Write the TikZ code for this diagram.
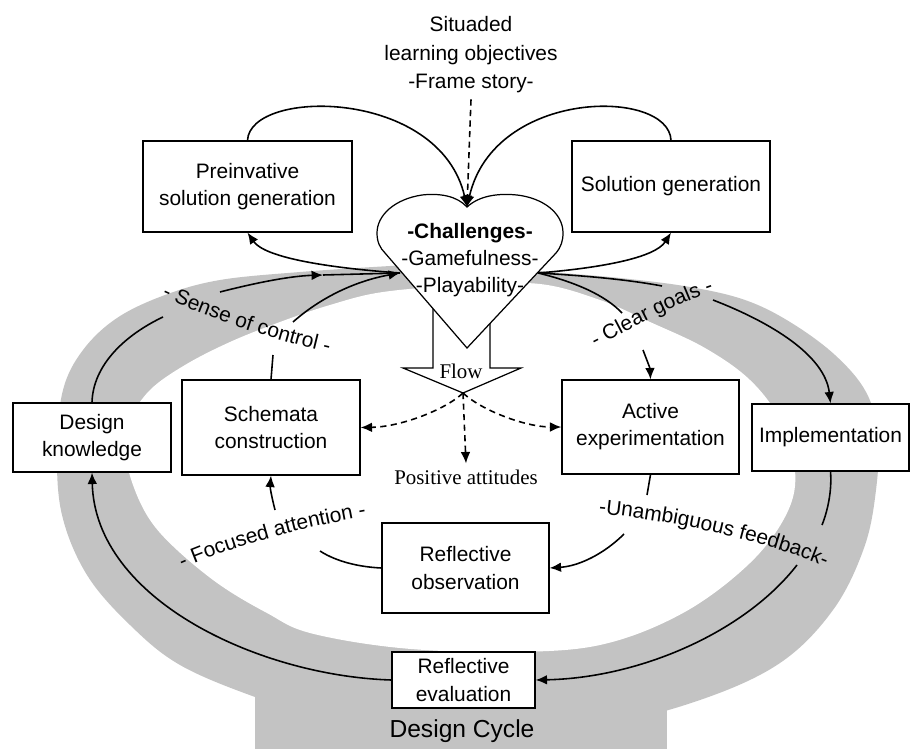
\documentclass[tikz,border=0pt]{standalone}
\usepackage{fontspec}
\setmainfont{Liberation Sans}
\newfontfamily\serifface{Liberation Serif}
\usetikzlibrary{arrows.meta,decorations.text}
\newlength\pxl
\setlength\pxl{0.02cm}
\newcommand\boxfont{\fontsize{11.9}{15.4}\selectfont}
\definecolor{ringgrey}{RGB}{195,195,195}

\begin{document}
\begin{tikzpicture}[x=0.02cm,y=-0.02cm,
  box/.style={draw, fill=white, line width=0.7pt, align=center, inner sep=0pt, font=\boxfont},
  plain/.style={line width=0.9pt},
  link/.style={line width=0.9pt, -{Latex[length=6.5pt,width=5.5pt]}},
  dlink/.style={line width=0.9pt, dash pattern=on 3.5pt off 2.5pt, -{Latex[length=6.5pt,width=5.5pt]}},
  arclabel/.style={decorate, decoration={text along path, text align=center, text={|\boxfont|#1}}}
]
\useasboundingbox (0,0) rectangle (911,749);

% grey design-cycle ring with its stem
\fill[ringgrey] plot[smooth cycle, tension=0.6] coordinates {
  (467,262) (540,271) (620,278) (690,287) (745,300) (790,322) (835,355)
  (866,392) (878,435) (876,490) (864,548) (833,610) (780,663) (700,700)
  (600,725) (467,735) (330,720) (255,697) (180,665) (130,625) (87,575)
  (62,515) (57,450) (63,390) (83,350) (117,318) (165,295) (220,280)
  (300,272) (390,266)};
\fill[ringgrey] (255,680) rectangle (667,749);
\fill[white] plot[smooth cycle, tension=0.6] coordinates {
  (467,285) (540,284) (600,300) (650,322) (705,348) (750,380) (780,420)
  (795,470) (787,513) (750,563) (683,613) (600,645) (505,652) (400,648)
  (310,633) (267,613) (220,585) (177,550) (150,520) (133,485) (125,450)
  (130,420) (150,390) (185,365) (230,342) (280,322) (330,305) (383,292)};

% boxes
\node[box, minimum width=209\pxl, minimum height=91\pxl] (pre) at (247.5,186.5) {Preinvative\\solution generation};
\node[box, minimum width=198\pxl, minimum height=91\pxl] (sol) at (671,186.5) {Solution generation};
\node[box, minimum width=158\pxl, minimum height=69\pxl] (dk) at (92,437.5) {Design\\knowledge};
\node[box, minimum width=178\pxl, minimum height=95\pxl] (sch) at (271,427.5) {Schemata\\construction};
\node[box, minimum width=177\pxl, minimum height=94\pxl] (act) at (650.5,427) {Active\\experimentation};
\node[box, minimum width=157\pxl, minimum height=67\pxl] (imp) at (830.5,437.5) {Implementation};
\node[box, minimum width=167\pxl, minimum height=90\pxl] (robs) at (465.5,568) {Reflective\\observation};
\node[box, minimum width=143\pxl, minimum height=56\pxl] (reval) at (463.5,680) {Reflective\\evaluation};
\node[font=\fontsize{14}{16}\selectfont] (cyc) at (462,731) {Design Cycle};

% situated objectives above the heart
\node[align=center, font=\fontsize{11.9}{16.2}\selectfont] (obj) at (471,55) {Situaded\\learning objectives\\-Frame story-};

% flow block arrow
\draw[fill=white, line width=0.7pt] (433,300) -- (433,368) -- (403,368) -- (463,393) -- (521,368) -- (490,368) -- (490,300);
\coordinate (ftip) at (463,393);
\node[font=\serifface\fontsize{11.9}{14}\selectfont] (flow) at (461,371) {Flow};

% heart with the challenges
\draw[fill=white, line width=0.7pt] (467,207) .. controls (457,196) and (440,193) .. (422,195)
  .. controls (395,199) and (377,215) .. (377,233) .. controls (377,242) and (380,248) .. (385,253)
  -- (467,348) -- (556,253) .. controls (561,247) and (563,241) .. (563,233)
  .. controls (563,213) and (543,198) .. (517,195) .. controls (497,193) and (479,196) .. (467,207) -- cycle;
\coordinate (notch) at (467,207);
\coordinate (hl) at (400,273);
\coordinate (hr) at (538,273);
\node[align=center, font=\boxfont] (chal) at (470,260) {\textbf{-Challenges-}\\-Gamefulness-\\-Playability-};

\node[font=\serifface\fontsize{11.9}{14}\selectfont] (pos) at (466,477) {Positive attitudes};

% gap ends of the labelled arcs
\coordinate (dkA) at (163,317);
\coordinate (dkB) at (220,292);
\coordinate (dkC) at (323,275);
\coordinate (schA) at (273,355);
\coordinate (schB) at (293,322);
\coordinate (clA) at (662,286);
\coordinate (clB) at (713,300);
\coordinate (cgA) at (622,313);
\coordinate (cgB) at (643,350);
\coordinate (ufA) at (822,525);
\coordinate (ufB) at (797,565);
\coordinate (abA) at (647,495);
\coordinate (abB) at (624,534);
\coordinate (faA) at (320,551);
\coordinate (faB) at (275,510);

% top loops into the heart
\draw[link] (pre.north) .. controls (250,88) and (440,88) .. (notch);
\draw[link] (sol.north) .. controls (669,88) and (494,88) .. (notch);
\draw[dlink] (obj.south) -- (notch);

% left side: knowledge and schemata back to the challenges
\draw[plain] (dk.north) .. controls (93,365) and (125,335) .. (dkA);
\draw[link] (dkB) .. controls (255,283) and (290,276) .. (dkC);
\draw[plain] (dkC) -- (hl);
\draw[link] (hl) .. controls (330,268) and (265,258) .. (pre.south);
\draw[plain] (sch.north) -- (schA);
\draw[link] (schB) .. controls (320,298) and (355,281) .. (hl);

% right side: challenges to solutions, implementation and experimentation
\draw[link] (hr) .. controls (600,268) and (655,258) .. (sol.south);
\draw[plain] (hr) .. controls (590,276) and (630,280) .. (clA);
\draw[link] (clB) .. controls (770,322) and (825,355) .. (imp.north);
\draw[plain] (hr) .. controls (575,282) and (605,295) .. (cgA);
\draw[link] (cgB) .. controls (646,358) and (650,368) .. (act.north);

% lower loops
\draw[plain] (imp.south) .. controls (832,490) and (828,510) .. (ufA);
\draw[link] (ufB) .. controls (745,632) and (640,678) .. (reval.east);
\draw[plain] (act.south) -- (abA);
\draw[link] (abB) .. controls (605,553) and (580,566) .. (robs.east);
\draw[plain] (robs.west) .. controls (360,567) and (337,562) .. (faA);
\draw[link] (faB) .. controls (272,498) and (270,488) .. (sch.south);
\draw[link] (reval.west) .. controls (260,676) and (95,600) .. (dk.south);

% flow outcomes
\draw[dlink] (ftip) .. controls (445,410) and (400,427) .. (sch.east);
\draw[dlink] (ftip) .. controls (481,410) and (525,427) .. (act.west);
\draw[dlink] (ftip) -- (pos.north);

% curved arc labels
\path[arclabel={- Sense of control -}] (156,294) .. controls (200,315) and (270,340) .. (335,354);
\path[arclabel={- Clear goals -}] (586,352) .. controls (630,330) and (675,303) .. (724,288);
\path[arclabel={-Unambiguous feedback-}] (585,512) .. controls (670,520) and (760,538) .. (838,572);
\path[arclabel={- Focused attention -}] (170,574) .. controls (225,548) and (300,527) .. (380,514);
\end{tikzpicture}
\end{document}
